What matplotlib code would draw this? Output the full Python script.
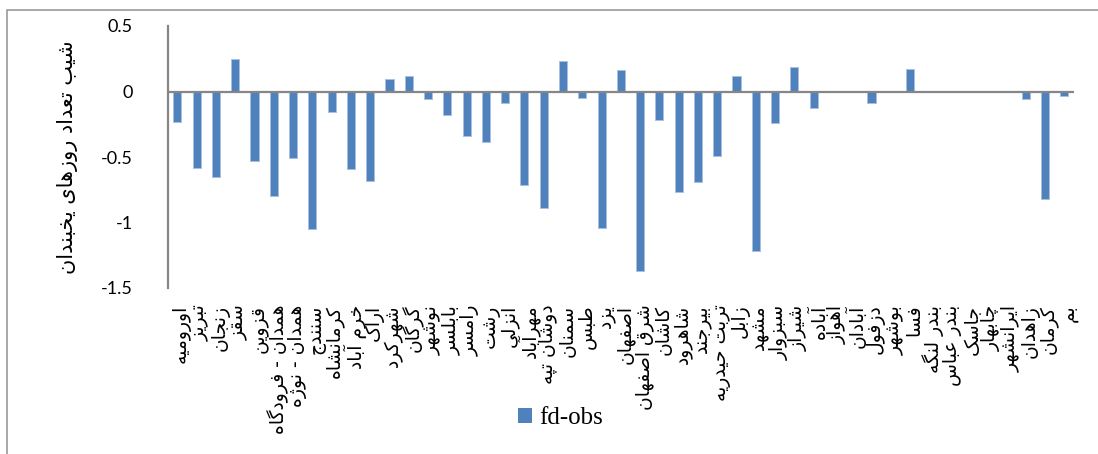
import matplotlib
matplotlib.use("Agg")
import matplotlib.pyplot as plt
from matplotlib.patches import Patch, Rectangle
import matplotlib.transforms as mtransforms

# ---------------- data ----------------
stations = [
    "اورومیه", "تبریز", "زنجان", "سقز", "قزوین", "همدان - فرودگاه", "همدان - نوژه",
    "سنندج", "کرمانشاه", "خرم آباد", "اراک", "شهرکرد", "گرگان", "نوشهر", "بابلسر",
    "رامسر", "رشت", "انزلی", "مهرآباد", "دوشان تپه", "سمنان", "طبس", "یزد",
    "اصفهان", "شرق اصفهان", "کاشان", "شاهرود", "بیرجند", "تربت حیدریه", "زابل",
    "مشهد", "سبزوار", "شیراز", "آباده", "اهواز", "آبادان", "دزفول", "بوشهر", "فسا",
    "بندر لنگه", "بندر عباس", "جاسک", "چابهار", "ایرانشهر", "زاهدان", "کرمان", "بم",
]
fd_obs = [
    -0.23, -0.585, -0.65, 0.247, -0.527, -0.796, -0.504, -1.05, -0.16, -0.59,
    -0.687, 0.099, 0.12, -0.059, -0.183, -0.336, -0.384, -0.087, -0.715, -0.891,
    0.232, -0.051, -1.041, 0.163, -1.369, -0.216, -0.768, -0.69, -0.496, 0.117,
    -1.221, -0.239, 0.188, -0.127, 0.0, 0.0, -0.089, 0.0, 0.173, 0.0,
    0.0, 0.0, 0.0, 0.0, -0.056, -0.819, -0.038,
]
series_name = "fd-obs"
y_label = "شیب تعداد روزهای یخبندان"
y_ticks = [-1.5, -1, -0.5, 0, 0.5]
y_tick_labels = ["-1.5", "-1", "-0.5", "0", "0.5"]

# ---------------- minimal Arabic/Persian shaping ----------------
FORMS = {
    "\u0627": (0xFE8D, 0xFE8E), "\u0622": (0xFE81, 0xFE82),
    "\u0628": (0xFE8F, 0xFE90, 0xFE91, 0xFE92), "\u067E": (0xFB56, 0xFB57, 0xFB58, 0xFB59),
    "\u062A": (0xFE95, 0xFE96, 0xFE97, 0xFE98), "\u062B": (0xFE99, 0xFE9A, 0xFE9B, 0xFE9C),
    "\u062C": (0xFE9D, 0xFE9E, 0xFE9F, 0xFEA0), "\u0686": (0xFB7A, 0xFB7B, 0xFB7C, 0xFB7D),
    "\u062D": (0xFEA1, 0xFEA2, 0xFEA3, 0xFEA4), "\u062E": (0xFEA5, 0xFEA6, 0xFEA7, 0xFEA8),
    "\u062F": (0xFEA9, 0xFEAA), "\u0630": (0xFEAB, 0xFEAC), "\u0631": (0xFEAD, 0xFEAE),
    "\u0632": (0xFEAF, 0xFEB0), "\u0698": (0xFB8A, 0xFB8B),
    "\u0633": (0xFEB1, 0xFEB2, 0xFEB3, 0xFEB4), "\u0634": (0xFEB5, 0xFEB6, 0xFEB7, 0xFEB8),
    "\u0635": (0xFEB9, 0xFEBA, 0xFEBB, 0xFEBC), "\u0636": (0xFEBD, 0xFEBE, 0xFEBF, 0xFEC0),
    "\u0637": (0xFEC1, 0xFEC2, 0xFEC3, 0xFEC4), "\u0638": (0xFEC5, 0xFEC6, 0xFEC7, 0xFEC8),
    "\u0639": (0xFEC9, 0xFECA, 0xFECB, 0xFECC), "\u063A": (0xFECD, 0xFECE, 0xFECF, 0xFED0),
    "\u0641": (0xFED1, 0xFED2, 0xFED3, 0xFED4), "\u0642": (0xFED5, 0xFED6, 0xFED7, 0xFED8),
    "\u06A9": (0xFB8E, 0xFB8F, 0xFB90, 0xFB91), "\u06AF": (0xFB92, 0xFB93, 0xFB94, 0xFB95),
    "\u0644": (0xFEDD, 0xFEDE, 0xFEDF, 0xFEE0), "\u0645": (0xFEE1, 0xFEE2, 0xFEE3, 0xFEE4),
    "\u0646": (0xFEE5, 0xFEE6, 0xFEE7, 0xFEE8), "\u0648": (0xFEED, 0xFEEE),
    "\u0647": (0xFEE9, 0xFEEA, 0xFEEB, 0xFEEC), "\u06CC": (0xFBFC, 0xFBFD, 0xFBFE, 0xFBFF),
}


def shape(text):
    out = []
    n = len(text)
    for i, c in enumerate(text):
        if c not in FORMS:
            out.append(c)
            continue
        f = FORMS[c]
        prev = text[i - 1] if i > 0 else None
        nxt = text[i + 1] if i < n - 1 else None
        jp = prev in FORMS and len(FORMS[prev]) == 4
        jn = len(f) == 4 and nxt in FORMS
        if jp and jn:
            g = f[3]
        elif jp:
            g = f[1]
        elif jn:
            g = f[2]
        else:
            g = f[0]
        out.append(chr(g))
    return "".join(reversed(out))


# ---------------- figure ----------------
W, H = 1098, 454
fig = plt.figure(figsize=(W / 100, H / 100), dpi=100)
ax = fig.add_axes([167.7 / W, 1 - 288 / H, (1074 - 167.7) / W, (288 - 26) / H])

x = list(range(len(stations)))
ax.bar(x, fd_obs, width=0.42, color="#4F81BD", edgecolor="#a9c0df", linewidth=0.7, zorder=2)

ax.set_xlim(-0.5, len(stations) - 0.5)
ax.set_ylim(-1.5, 0.5)
ax.axhline(0, color="#868686", linewidth=1.6, zorder=3)

for s in ("top", "right", "bottom"):
    ax.spines[s].set_visible(False)
ax.spines["left"].set_color("#868686")
ax.spines["left"].set_linewidth(1.6)

ax.set_yticks(y_ticks)
ax.set_yticklabels(y_tick_labels, fontfamily="Lato", fontsize=13)
ax.tick_params(axis="y", length=0, pad=25)

ax.set_xticks(x)
ax.set_xticklabels([shape(s) for s in stations], rotation=90, ha="center", va="top",
                   fontfamily="DejaVu Sans", fontsize=13.5)
ax.tick_params(axis="x", length=0, pad=12)
offset = mtransforms.ScaledTranslation(4 / 100, 0, fig.dpi_scale_trans)
for lbl in ax.get_xticklabels():
    lbl.set_transform(lbl.get_transform() + offset)

ax.set_ylabel(shape(y_label), fontfamily="DejaVu Sans", fontsize=15, va="center")
ax.yaxis.set_label_coords((67 - 167.7) / (1074 - 167.7), 0.5)

fig.legend(handles=[Patch(facecolor="#4F81BD", edgecolor="none")], labels=[series_name],
           loc="center left", bbox_to_anchor=(518 / W, 1 - 418 / H), frameon=False,
           handlelength=0.55, handleheight=0.55, handletextpad=0.3, borderpad=0,
           borderaxespad=0, prop={"family": "Liberation Serif", "size": 18})

fig.add_artist(Rectangle((7 / W, -0.1), 1.2, 1.1 - 10 / H, transform=fig.transFigure,
                         fill=False, edgecolor="#9a9a9a", linewidth=1.2))

fig.savefig("out.png", dpi=100)
